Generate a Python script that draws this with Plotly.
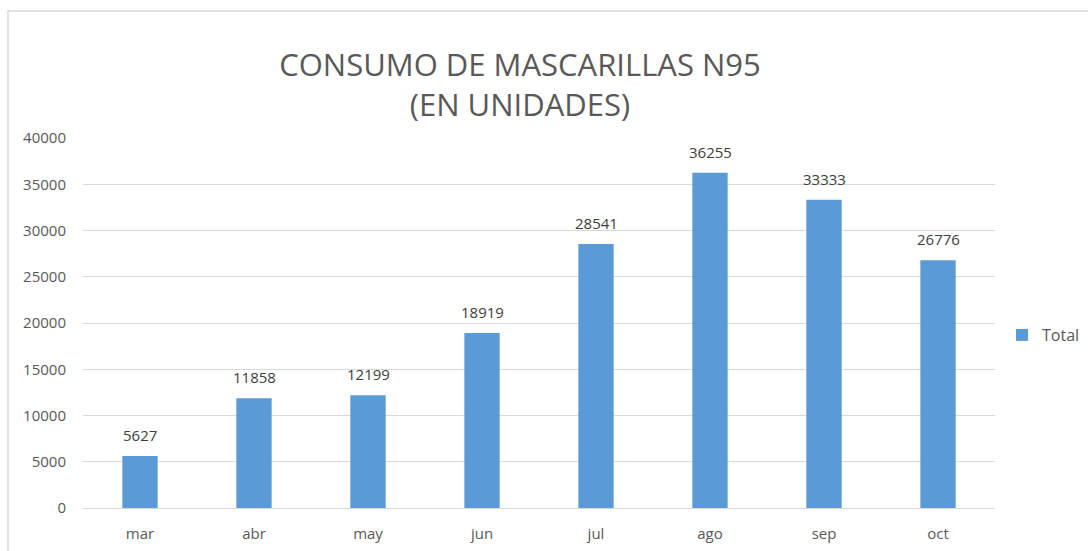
import plotly.graph_objects as go

months = ["mar", "abr", "may", "jun", "jul", "ago", "sep", "oct"]
total = [5627, 11858, 12199, 18919, 28541, 36255, 33333, 26776]
y_ticks = [0, 5000, 10000, 15000, 20000, 25000, 30000, 35000, 40000]

fig = go.Figure()
fig.add_trace(go.Bar(
    x=months, y=total, name="Total",
    marker=dict(color="#5B9BD5", line=dict(width=0)),
))
for m, v in zip(months, total):
    fig.add_annotation(
        x=m, y=v, text=str(v), showarrow=False,
        yanchor="bottom", yshift=9,
        font=dict(family="Open Sans", size=15, color="#404040"),
    )

W, H = 1088, 551
L, R, T, B = 83, 93, 138, 43
pw, ph = W - L - R, H - T - B

fig.update_layout(
    width=W, height=H,
    margin=dict(l=L, r=R, t=T, b=B, autoexpand=False),
    paper_bgcolor="white", plot_bgcolor="white",
    bargap=0.69,
    showlegend=True,
    title=dict(
        text="CONSUMO DE MASCARILLAS N95<br>(EN UNIDADES)",
        x=520 / W, xanchor="center", xref="container",
        y=1 - 76 / H, yanchor="middle", yref="container",
        font=dict(family="Open Sans", size=31, color="#595959"),
    ),
    legend=dict(
        x=1002 / W, xref="container", xanchor="left",
        y=1 - 335 / H, yref="container", yanchor="middle",
        font=dict(family="Open Sans", size=16, color="#595959"),
        itemwidth=30,
    ),
    font=dict(family="Open Sans", color="#595959"),
)
fig.update_xaxes(
    showgrid=False, showline=False, ticks="", ticklabelstandoff=15,
    automargin=False,
    tickfont=dict(family="Open Sans", size=15, color="#595959"),
)
fig.update_yaxes(
    range=[0, 40000], tickvals=y_ticks, ticktext=[str(v) for v in y_ticks],
    showgrid=True, gridcolor="#d9d9d9", gridwidth=1,
    zeroline=True, zerolinecolor="#d9d9d9", zerolinewidth=1,
    showline=False, ticks="", ticklabelstandoff=16, automargin=False,
    tickfont=dict(family="Open Sans", size=15, color="#595959"),
)
# chart border (extends beyond image on right/bottom)
fig.add_shape(
    type="rect", xref="paper", yref="paper",
    x0=(8 - L) / pw, x1=(W + 10 - L) / pw,
    y0=(H - B - (H + 10)) / ph, y1=(H - B - 11) / ph,
    line=dict(color="#d9d9d9", width=1.5), fillcolor="rgba(0,0,0,0)",
    layer="below",
)
fig.write_html("out.html", config={"displayModeBar": False},
               post_script="document.body.style.margin='0';")
